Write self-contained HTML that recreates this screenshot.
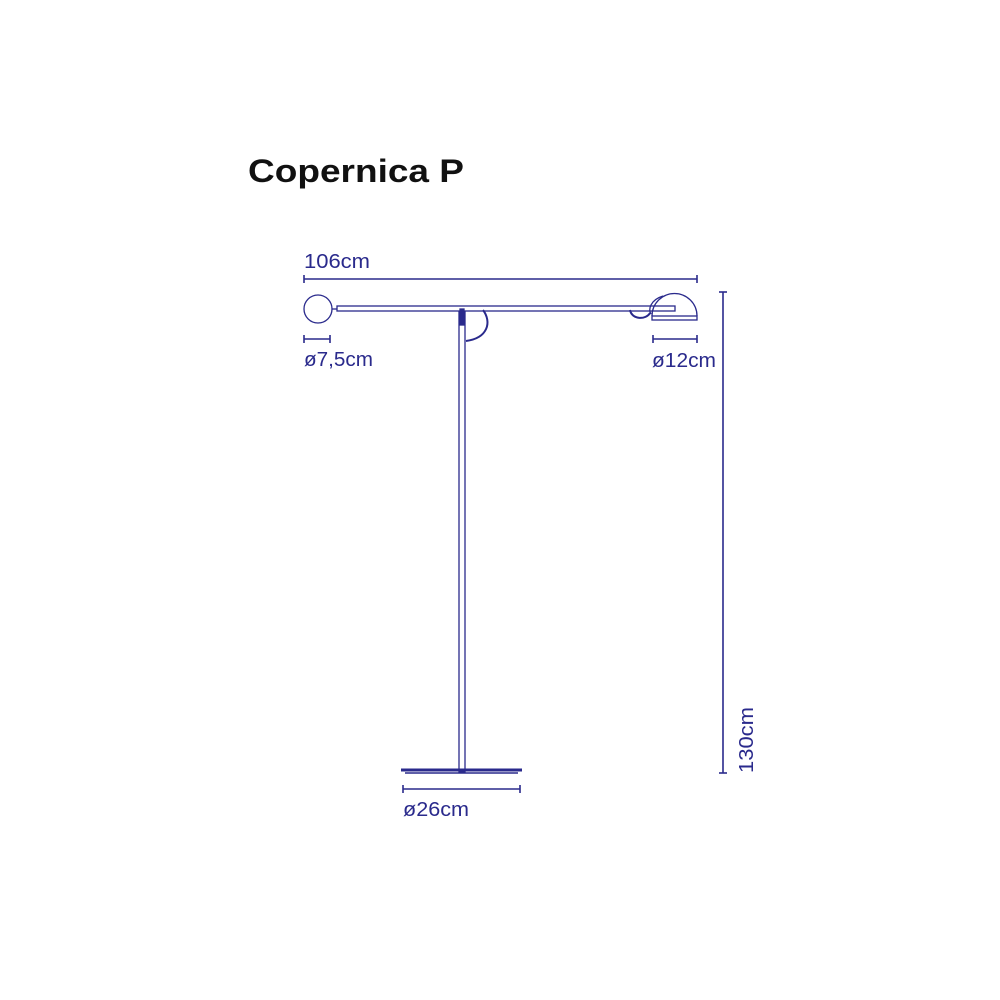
<!DOCTYPE html>
<html><head><meta charset="utf-8"><style>
html,body{margin:0;padding:0;background:#fff;width:1000px;height:1000px;overflow:hidden}
</style></head><body>
<svg width="1000" height="1000" viewBox="0 0 1000 1000" xmlns="http://www.w3.org/2000/svg">
<text x="248" y="182" font-family="Liberation Sans, sans-serif" font-weight="bold" font-size="32" fill="#111" textLength="216" lengthAdjust="spacingAndGlyphs">Copernica P</text>
<g font-family="Liberation Sans, sans-serif" font-size="20" fill="#2a2a8c">
<text x="304" y="268" textLength="66" lengthAdjust="spacingAndGlyphs">106cm</text>
<text x="304" y="366" textLength="69" lengthAdjust="spacingAndGlyphs">ø7,5cm</text>
<text x="652" y="367" textLength="64" lengthAdjust="spacingAndGlyphs">ø12cm</text>
<text x="403" y="816" textLength="66" lengthAdjust="spacingAndGlyphs">ø26cm</text>
<text transform="translate(753,773) rotate(-90)" textLength="66" lengthAdjust="spacingAndGlyphs">130cm</text>
</g>
<g stroke="#2a2a8c" fill="none" stroke-width="1.6">
<line x1="304" y1="279" x2="697" y2="279"/><line x1="304" y1="275" x2="304" y2="283"/><line x1="697" y1="275" x2="697" y2="283"/>
<line x1="304" y1="339" x2="330" y2="339"/><line x1="304" y1="335" x2="304" y2="343"/><line x1="330" y1="335" x2="330" y2="343"/>
<line x1="653" y1="339" x2="697" y2="339"/><line x1="653" y1="335" x2="653" y2="343"/><line x1="697" y1="335" x2="697" y2="343"/>
<line x1="723" y1="292" x2="723" y2="773"/><line x1="719" y1="292" x2="727" y2="292"/><line x1="719" y1="773" x2="727" y2="773"/>
<line x1="403" y1="789" x2="520" y2="789"/><line x1="403" y1="785" x2="403" y2="793"/><line x1="520" y1="785" x2="520" y2="793"/>
</g>
<g stroke="#2a2a8c" fill="none" stroke-width="1.3">
<circle cx="318" cy="309" r="14"/>
<line x1="332" y1="309" x2="337" y2="309"/>
<rect x="337" y="306" width="338" height="5"/>
<rect x="459" y="312" width="6" height="460"/>
<rect x="460" y="309" width="4" height="16" fill="#2a2a8c"/>
<path d="M483,310 C492,322 488,338 466,341" stroke-width="2"/>
<path d="M652,316 A22,22 0 0 1 697,316"/>
<rect x="652" y="316" width="45" height="4"/>
<path d="M663,296 C650,300 648,310 651,314"/>
<path d="M630,310 C632,320 646,320 650,313" stroke-width="2"/>
<line x1="401" y1="770" x2="522" y2="770" stroke-width="3"/>
<line x1="405" y1="773" x2="518" y2="773" stroke-width="1.5"/>
</g>
</svg>
</body></html>
